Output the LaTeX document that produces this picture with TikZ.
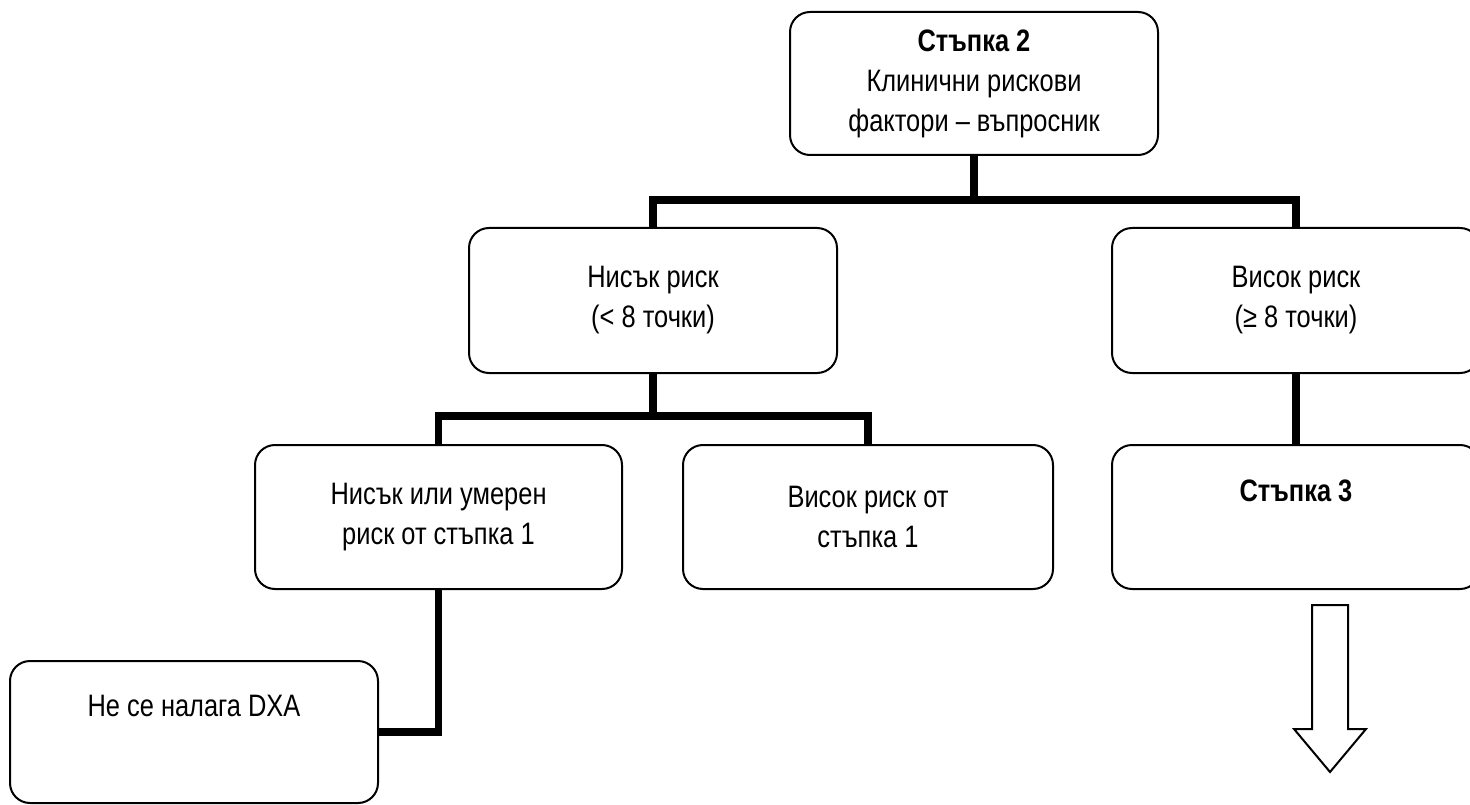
\documentclass[tikz,border=0pt]{standalone}
\usepackage{fontspec}
\setmainfont{Liberation Sans}[FakeStretch=0.82]
\begin{document}
\begin{tikzpicture}[x=1pt,y=-1pt,
  box/.style={draw, line width=2pt, rounded corners=20pt, align=center,
    inner sep=0pt, font=\fontsize{31}{40}\selectfont},
  conn/.style={line width=7.5pt, line join=miter}]
\clip (0,0) rectangle (1470,805);
\node[box, minimum width=368pt, minimum height=143pt] (s2) at (974,83.5)
  {\textbf{Стъпка 2}\\Клинични рискови\\фактори – въпросник};
\node[box, minimum width=368pt, minimum height=145pt] (low) at (653,300.5)
  {Нисък риск\\(< 8 точки)};
\node[box, minimum width=368pt, minimum height=145pt] (high) at (1296,300.5)
  {Висок риск\\(≥ 8 точки)};
\node[box, minimum width=367pt, minimum height=144pt] (lowmod) at (438.5,517)
  {Нисък или умерен\\риск от стъпка 1};
\node[box, minimum width=370pt, minimum height=144pt] (highs1) at (868,517)
  {Висок риск от\\стъпка 1};
\node[box, minimum width=368pt, minimum height=144pt] (s3) at (1296,517)
  {\textbf{Стъпка 3}\\\strut};
\node[box, minimum width=368pt, minimum height=142pt] (nodxa) at (194,732)
  {Не се налага DXA\\\strut};
\coordinate (b1) at (974,200);
\coordinate (b2) at (653,416);
\draw[conn] (s2.south) -- (b1);
\draw[conn] (low.north) -- (low.north |- b1) -- (high.north |- b1) -- (high.north);
\draw[conn] (low.south) -- (b2);
\draw[conn] (lowmod.north) -- (lowmod.north |- b2) -- (highs1.north |- b2) -- (highs1.north);
\draw[conn] (high.south) -- (s3.north);
\draw[conn] (lowmod.south) |- (nodxa.east);
\draw[line width=2pt, line join=miter] (1312,605) -- (1348,605) -- (1348,729) -- (1366,729)
  -- (1330,772) -- (1294,729) -- (1312,729) -- cycle;
\end{tikzpicture}
\end{document}
